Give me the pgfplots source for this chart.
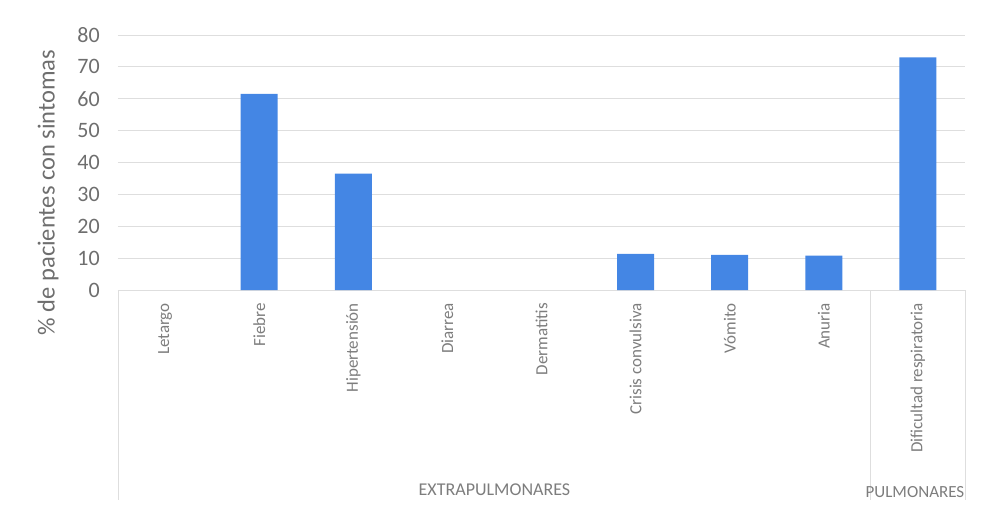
\documentclass[border=0pt]{standalone}
\usepackage{pgfplots}
\pgfplotsset{compat=1.18}
\usepackage{fontspec}
\setmainfont{Carlito}
\definecolor{barblue}{RGB}{68,134,228}
\definecolor{txtgray}{RGB}{110,110,110}
\definecolor{lightgray2}{RGB}{125,125,125}
\definecolor{gridgray}{RGB}{222,222,222}
\begin{document}
\begin{tikzpicture}
\useasboundingbox (-118pt,-221pt) rectangle (863pt,290pt);
\begin{axis}[
  scale only axis,
  width=847pt, height=255pt,
  at={(0pt,0pt)}, anchor=south west,
  ybar, bar width=37pt,
  xmin=-0.5, xmax=8.5,
  ymin=0, ymax=80,
  ytick={0,10,...,80},
  xtick={0,...,8},
  xticklabels={Letargo,Fiebre,Hipertensión,Diarrea,Dermatitis,Crisis convulsiva,Vómito,Anuria,Dificultad respiratoria},
  /pgf/number format/assume math mode=true,
  axis line style={draw=none},
  major tick length=0pt,
  ymajorgrids, major grid style={draw=gridgray, line width=0.8pt},
  yticklabel style={font=\fontsize{22}{26}\selectfont, text=txtgray, anchor=east, inner sep=0pt, xshift=-18pt},
  xticklabel style={font=\fontsize{17}{20}\selectfont, text=lightgray2, rotate=90, anchor=east, inner sep=0pt},
  xticklabel shift=13pt,
  unbounded coords=discard,
  y filter/.expression={y==0 ? nan : y},
  clip=false,
]
\addplot[fill=barblue, draw=none] coordinates {
  (0,0) (1,61.5) (2,36.5) (3,0) (4,0) (5,11.3) (6,11) (7,10.8) (8,73)
};
\draw[gridgray, line width=0.8pt] (axis cs:-0.5,0) -- ++(0pt,-210pt);
\draw[gridgray, line width=0.8pt] (axis cs:7.5,0) -- ++(0pt,-210pt);
\draw[gridgray, line width=0.8pt] (axis cs:8.5,0) -- ++(0pt,-210pt);
\node[font=\fontsize{18}{21}\selectfont, text=lightgray2] at (axis cs:3.5,0) [yshift=-200pt] {EXTRAPULMONARES};
\node[font=\fontsize{17}{20}\selectfont, text=lightgray2] at (axis cs:8,0) [xshift=-3pt, yshift=-202pt] {PULMONARES};
\node[font=\fontsize{24.5}{28}\selectfont, text=txtgray, xshift=-70pt, yshift=-30pt, rotate=90] at (axis cs:-0.5,40) {\% de pacientes con sintomas};
\end{axis}
\end{tikzpicture}
\end{document}
